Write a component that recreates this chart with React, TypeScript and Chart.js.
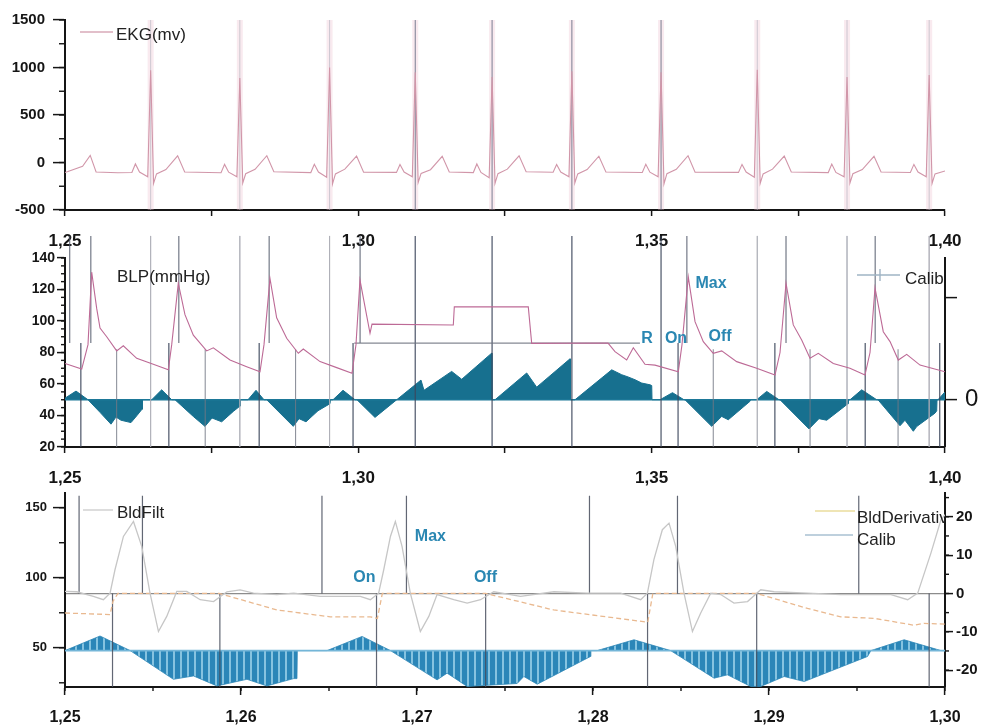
import React, { useEffect, useRef } from "react";
import { Chart, registerables } from "chart.js";

Chart.register(...registerables);
Chart.defaults.font.family = '"Liberation Sans", Arial, sans-serif';

// ---- time axes (minutes) ----
const wideRange = [1.25, 1.4];
const narrowRange = [1.25, 1.3];
const wideTicks = [1.25, 1.275, 1.3, 1.325, 1.35, 1.375, 1.4];
const narrowTicks = [1.25, 1.26, 1.27, 1.28, 1.29, 1.3];
const ekgTicks = [-500, 0, 500, 1000, 1500];
const blpTicks = [20, 40, 60, 80, 100, 120, 140];
const blpRightTicks = [0, 65];
const filtTicks = [50, 100, 150];
const derivTicks = [-20, -10, 0, 10, 20];

// ---- detected events ----
const rTimes = [1.2646, 1.2798, 1.2951, 1.3097, 1.3228, 1.3364, 1.3516, 1.368, 1.3833, 1.3973];
const onTimes = [1.2527, 1.2677, 1.2831, 1.2991, 1.3545, 1.371, 1.3864, 1.3991];
const maxTimes = [1.2508, 1.2544, 1.2694, 1.2848, 1.3003, 1.356, 1.3729, 1.3881];
const offTimes = [1.2588, 1.2739, 1.2893, 1.3605, 1.377, 1.392];
const calibWindow = [1.305, 1.355];

// ---- EKG (mV) ----
const ekgTime = [
  1.25, 1.2505, 1.253, 1.2543, 1.2553, 1.259,
  1.2614, 1.262, 1.2627, 1.2641, 1.2646, 1.2651, 1.2656, 1.2672, 1.2692, 1.2704,
  1.2766, 1.2772, 1.2779, 1.2793, 1.2798, 1.2803, 1.2808, 1.2824, 1.2844, 1.2856,
  1.2919, 1.2925, 1.2932, 1.2946, 1.2951, 1.2956, 1.2961, 1.2977, 1.2997, 1.3009,
  1.3065, 1.3071, 1.3078, 1.3092, 1.3097, 1.3102, 1.3107, 1.3123, 1.3143, 1.3155,
  1.3196, 1.3202, 1.3209, 1.3223, 1.3228, 1.3233, 1.3238, 1.3254, 1.3274, 1.3286,
  1.3332, 1.3338, 1.3345, 1.3359, 1.3364, 1.3369, 1.3374, 1.339, 1.341, 1.3422,
  1.3484, 1.349, 1.3497, 1.3511, 1.3516, 1.3521, 1.3526, 1.3542, 1.3562, 1.3574,
  1.3648, 1.3654, 1.3661, 1.3675, 1.368, 1.3685, 1.369, 1.3706, 1.3726, 1.3738,
  1.3801, 1.3807, 1.3814, 1.3828, 1.3833, 1.3838, 1.3843, 1.3859, 1.3879, 1.3891,
  1.3941, 1.3947, 1.3954, 1.3968, 1.3973, 1.3978, 1.3983, 1.4,
];
const ekgMv = [
  -105, -95, -40, 75, -100, -108,
  -105, -15, -100, -150, 970, -220, -120, -75, 70, -100,
  -108, -20, -102, -150, 890, -215, -118, -72, 72, -98,
  -106, -18, -100, -155, 1000, -225, -120, -70, 68, -102,
  -104, -22, -100, -150, 950, -210, -115, -76, 65, -100,
  -106, -15, -104, -160, 900, -220, -118, -70, 70, -98,
  -102, -20, -100, -150, 960, -215, -120, -74, 66, -100,
  -105, -18, -102, -150, 950, -225, -118, -72, 72, -102,
  -104, -20, -100, -155, 975, -220, -120, -70, 68, -100,
  -106, -16, -104, -150, 900, -215, -118, -75, 65, -100,
  -105, -20, -100, -150, 920, -220, -120, -90,
];

// ---- blood pressure (mmHg) ----
const blpTime = [
  1.25, 1.25285, 1.25392, 1.25455, 1.2554, 1.25597, 1.25711, 1.25881, 1.25994, 1.26222,
  1.26505, 1.26761, 1.26819, 1.26931, 1.27045, 1.27187, 1.27415, 1.27528, 1.27813, 1.28097,
  1.28324, 1.28392, 1.28494, 1.28608, 1.28779, 1.28977, 1.29062, 1.29347, 1.29631, 1.29892,
  1.2996, 1.30028, 1.30199, 1.30233, 1.31619, 1.31636, 1.32897, 1.32955, 1.34256, 1.34375,
  1.34574, 1.34687, 1.34886, 1.35057, 1.35454, 1.35517, 1.35624, 1.35739, 1.3588, 1.3605,
  1.36194, 1.36449, 1.3679, 1.37102, 1.37188, 1.3729, 1.37414, 1.37557, 1.37699, 1.3784,
  1.38096, 1.3838, 1.38636, 1.38722, 1.38807, 1.38948, 1.39063, 1.39204, 1.39347, 1.39574,
  1.4,
];
const blpMmHg = [
  73, 69.5, 85, 131, 108, 95.5, 90, 81, 84.3, 76.3,
  72.5, 69, 85, 124, 104, 91, 81, 83, 75.2, 71,
  67.8, 85, 127, 102, 89, 79.5, 82.2, 74.2, 70.4, 66.8,
  85, 126, 92.2, 98, 97.5, 109, 109, 85.8, 86, 80.5,
  75.2, 83, 72.5, 72, 67.8, 85, 128, 99.6, 86.9, 79.5,
  81, 74.2, 70, 65.7, 80, 124, 97.5, 88, 76.3, 79.5,
  73, 70, 65.7, 80, 121, 93.2, 86.9, 75.2, 78.8, 72,
  67.8,
];
const calibLevelTime = [1.2993, 1.348];
const calibLevelMmHg = [86, 86];

// ---- pressure derivative / calibration ramps (right axis) ----
const derivTime = [
  1.25, 1.25188, 1.25392, 1.25597, 1.25784, 1.25869, 1.25955, 1.26125, 1.26227, 1.26313, 1.26321,
  1.26478, 1.26648, 1.26819,
  1.26875, 1.27187, 1.27386, 1.27506, 1.27671, 1.27869, 1.27983, 1.27991,
  1.28119, 1.28256, 1.28392,
  1.28438, 1.28891, 1.28989, 1.29108, 1.29312, 1.29517, 1.29526,
  1.29568, 1.29739, 1.29943,
  1.29977, 1.30284, 1.30654,
  1.31068, 1.31119, 1.31591, 1.31762, 1.32273, 1.32278,
  1.3233, 1.3287, 1.3304, 1.33608, 1.33617,
  1.33693, 1.34319, 1.34489, 1.34597, 1.34716, 1.3483, 1.34972, 1.35001, 1.35006,
  1.35142, 1.35355, 1.35551,
  1.35568, 1.36023, 1.36194, 1.36306, 1.36676, 1.36685,
  1.3679, 1.36961, 1.37171,
  1.37188, 1.37682, 1.37852, 1.37984, 1.38347, 1.38355,
  1.38381, 1.3858, 1.38836,
  1.38858, 1.39233, 1.39318, 1.3946, 1.39518, 1.3983, 1.39859, 1.39864,
  1.39881, 1.4,
];
const derivValue = [
  1, 5.5, 0, -8, -15.5, -11, -13, -14.5, -10, -6, 0,
  0, 6.3, 0,
  0, -10.6, -16.9, -11.6, -14, -7.4, -4, 0,
  0, 6, 0,
  0, -16.9, -12, -14, -7, -2.5, 0,
  0, 6, 0,
  0, -11.2, 0,
  12.5, 6, 18, 13, 29.6, 0,
  0, 17, 8, 26, 0,
  0, 19, 15.9, 14.5, 12.7, 10.6, 9.5, 9, 0,
  0, 4.5, 0,
  0, -16.9, -10.6, -12.7, -1, 0,
  0, 5.3, 0,
  0, -18.5, -12, -13, -2.5, 0,
  0, 6.3, 0,
  0, -16.5, -13, -20, -17, -8.5, -7, 0,
  0, 5,
];

// ---- detail window 1,25 – 1,30 ----
const filtTime = [
  1.25, 1.25067, 1.25161, 1.25218, 1.25256, 1.25284, 1.25332, 1.25389, 1.25436, 1.25483,
  1.25531, 1.25578, 1.25635, 1.25692, 1.25768, 1.25844, 1.2592, 1.25995, 1.26071, 1.26204,
  1.26299, 1.2645, 1.26678, 1.26735, 1.26782, 1.26811, 1.26849, 1.26877, 1.26915, 1.26962,
  1.27019, 1.27067, 1.27114, 1.27209, 1.27285, 1.27361, 1.27436, 1.27588, 1.27778, 1.27967,
  1.28157, 1.28271, 1.28309, 1.28346, 1.28394, 1.28432, 1.2847, 1.28517, 1.28565, 1.28612,
  1.28669, 1.28726, 1.28801, 1.28878, 1.28953, 1.29029, 1.29219, 1.29408, 1.29693, 1.29788,
  1.29845, 1.2992, 1.29977, 1.3,
];
const filtValue = [
  90.2, 90, 86.7, 84.3, 89, 105.7, 129.5, 140.2, 122.4, 89,
  61.6, 72.4, 90.2, 90.2, 84.3, 83, 90, 91.4, 89, 87.9,
  89, 86.7, 86.7, 84.3, 89, 105.7, 129.5, 140.2, 122.4, 89,
  61.6, 72.4, 88, 84.3, 81.9, 84.3, 90, 86.7, 90, 89,
  89, 84.3, 89, 112.9, 134.3, 139, 122.4, 89, 61.6, 74.8,
  89, 88, 81.9, 83, 91.4, 90, 89, 88, 88, 84.3,
  89, 117.6, 141.4, 145,
];
const bdTime = [
  1.25, 1.25256, 1.25273, 1.25301, 1.25876, 1.26204, 1.26507, 1.26735, 1.26775, 1.26803,
  1.27389, 1.27776, 1.28311, 1.2834, 1.2893, 1.29219, 1.29408, 1.29598, 1.29825, 1.2988, 1.3,
];
const bdValue = [
  -5.1, -5.5, -2, 0, 0, -4.3, -6.1, -6.1, -6.5, 0,
  0, -4.3, -7.5, 0, 0, -3.9, -6.1, -6.5, -8.3, -7.8, -8,
];
const calibBase = 48;
const calibTime = [
  1.25, 1.25199, 1.2537, 1.25616, 1.2573, 1.25863, 1.26034, 1.26147, 1.26299, 1.26318,
  1.2632, 1.26489, 1.26688, 1.26849, 1.27114, 1.27171, 1.27285, 1.27569, 1.27607, 1.27683,
  1.27986, 1.27988, 1.28024, 1.28233, 1.28441, 1.28688, 1.28764, 1.28896, 1.28953, 1.29086,
  1.292, 1.2956, 1.29579, 1.29768, 1.29977, 1.3,
];
const calibValue = [
  48, 58.4, 48, 27.5, 29.9, 22.8, 27.5, 22.8, 28, 28,
  48, 48, 58.1, 48, 27.1, 31.9, 22.4, 24.5, 29.5, 24,
  43.8, 48, 48, 55.7, 48, 28.3, 30.7, 22.4, 22.4, 29.5,
  25.9, 43.8, 48, 55.7, 48, 48,
];

// event captions
const blpMarkText = ["R", "On", "Max", "Off"];
const blpMarkTime = [1.3492, 1.35415, 1.36011, 1.36165];
const blpMarkLevel = [88.6, 88.6, 123.5, 89.8];
const filtMarkText = ["On", "Max", "Off"];
const filtMarkTime = [1.26701, 1.27076, 1.27389];
const filtMarkLevel = [100, 129.3, 100];

// ---- helpers ----
const pts = (t: number[], v: number[]) => t.map((x, i) => ({ x, y: v[i] }));
const verticals = (times: number[], lo: number, hi: number) =>
  times.flatMap((t) => [{ x: t, y: lo }, { x: t, y: hi }, { x: t, y: null }]);
const fmt = (v: number) => v.toFixed(2).replace(".", ",");
const isMult = (v: number, s: number) => Math.abs(v / s - Math.round(v / s)) < 1e-6;
const inCalib = (t: number) => t >= calibWindow[0] && t <= calibWindow[1];
const inNarrow = (t: number) => t >= narrowRange[0] && t <= narrowRange[1];
const INK = "#151515";

function axis(a: any) {
  const horizontal = a.pos === "bottom";
  return {
    type: "linear",
    position: a.pos,
    min: a.min,
    max: a.max,
    afterBuildTicks: (s: any) => {
      s.ticks = a.majors.map((value: number) => ({ value }));
    },
    afterFit: (s: any) => {
      if (horizontal) s.height = a.thickness;
      else s.width = a.thickness;
    },
    ticks: {
      autoSkip: false,
      maxRotation: 0,
      minRotation: 0,
      padding: a.pad,
      color: INK,
      font: { size: a.size, weight: a.bold === false ? "normal" : "bold" },
      callback: (v: number) => a.label(v),
    },
    grid: {
      drawOnChartArea: !!a.zeroGrid,
      drawTicks: true,
      tickLength: a.tickLen,
      tickColor: INK,
      tickWidth: 1.5,
      lineWidth: 1.2,
      color: (c: any) => (a.zeroGrid && c.tick && c.tick.value === 0 ? a.zeroGrid : "rgba(0,0,0,0)"),
    },
    border: { display: true, color: INK, width: 2 },
  };
}

const line = (data: any[], color: any, width: number, extra: any = {}) => ({
  type: "line",
  data,
  borderColor: color,
  borderWidth: width,
  pointRadius: 0,
  fill: false,
  tension: 0,
  ...extra,
});

// short unlabeled ticks between the labeled ones
const minorTicks = {
  id: "minorTicks",
  afterDraw(chart: any, _a: any, o: any) {
    const ctx = chart.ctx;
    ctx.save();
    ctx.strokeStyle = INK;
    ctx.lineWidth = 1.4;
    for (const m of o.list || []) {
      const s = chart.scales[m.id];
      const n = Math.round((m.to - m.from) / m.step);
      for (let i = 0; i <= n; i++) {
        const p = s.getPixelForValue(m.from + i * m.step);
        ctx.beginPath();
        if (m.side === "left") {
          ctx.moveTo(s.right - m.len, p);
          ctx.lineTo(s.right, p);
        } else if (m.side === "right") {
          ctx.moveTo(s.left, p);
          ctx.lineTo(s.left + m.len, p);
        } else {
          ctx.moveTo(p, s.top);
          ctx.lineTo(p, s.top + m.len);
        }
        ctx.stroke();
      }
    }
    ctx.restore();
  },
};

// in-plot legends and event captions
const notes = {
  id: "notes",
  afterDraw(chart: any, _a: any, o: any) {
    const { ctx, chartArea: a } = chart;
    ctx.save();
    ctx.beginPath();
    ctx.rect(a.left, 0, a.right - a.left, chart.height);
    ctx.clip();
    for (const it of o.legend || []) {
      const bx = it.from === "right" ? a.right : a.left;
      if (it.line) {
        ctx.strokeStyle = it.lineColor;
        ctx.lineWidth = 1.4;
        ctx.beginPath();
        ctx.moveTo(bx + it.line[0], a.top + it.line[2]);
        ctx.lineTo(bx + it.line[1], a.top + it.line[2]);
        ctx.stroke();
        if (it.tick != null) {
          ctx.beginPath();
          ctx.moveTo(bx + it.tick, a.top + it.line[2] - 6);
          ctx.lineTo(bx + it.tick, a.top + it.line[2] + 6);
          ctx.stroke();
        }
      }
      ctx.font = '17px "Liberation Sans", Arial, sans-serif';
      ctx.fillStyle = "#222";
      ctx.textAlign = "left";
      ctx.textBaseline = "middle";
      ctx.fillText(it.text, bx + it.tx, a.top + it.ty);
    }
    ctx.restore();
    if (o.marks) {
      ctx.save();
      const xs = chart.scales.x;
      const ys = chart.scales.y;
      ctx.font = 'bold 16px "Liberation Sans", Arial, sans-serif';
      ctx.fillStyle = "#2a87b2";
      ctx.textAlign = "center";
      ctx.textBaseline = "middle";
      o.marks.text.forEach((s: string, i: number) => {
        ctx.fillText(s, xs.getPixelForValue(o.marks.t[i]), ys.getPixelForValue(o.marks.v[i]));
      });
      ctx.restore();
    }
  },
};

const baseOptions = (padding: any, scales: any, plugins: any) => ({
  animation: false,
  responsive: false,
  events: [],
  layout: { padding },
  scales,
  plugins: { legend: { display: false }, tooltip: { enabled: false }, ...plugins },
});

function ekgConfig() {
  const calibR = rTimes.filter(inCalib);
  const plainR = rTimes.filter((t) => !inCalib(t));
  return {
    type: "line",
    data: {
      datasets: [
        line(pts(ekgTime, ekgMv), "#d196a9", 1.1),
        line(verticals(calibR, -500, 1500), "rgba(80,90,115,0.75)", 1),
        line(verticals(plainR, -500, 1500), "rgba(175,175,188,0.6)", 1),
        line(verticals(rTimes, -500, 1500), "rgba(236,186,202,0.3)", 6),
      ],
    },
    options: baseOptions(
      { left: 8, top: 20, right: 43, bottom: 478 },
      {
        x: axis({ pos: "bottom", min: wideRange[0], max: wideRange[1], majors: wideTicks, label: (v: number) => (isMult(v, 0.05) ? fmt(v) : ""), size: 17, tickLen: 6, pad: 15, thickness: 40 }),
        y: axis({ pos: "left", min: -500, max: 1500, majors: ekgTicks, label: (v: number) => String(v), size: 15, tickLen: 12, pad: 8, thickness: 57 }),
      },
      {
        minorTicks: { list: [{ id: "y", from: -500, to: 1500, step: 250, len: 6, side: "left" }] },
        notes: { legend: [{ from: "left", line: [15, 48, 12], lineColor: "#d9aab9", text: "EKG(mv)", tx: 51, ty: 15 }] },
      }
    ),
    plugins: [minorTicks, notes],
  };
}

function blpConfig() {
  const calibR = rTimes.filter(inCalib);
  const plainR = rTimes.filter((t) => !inCalib(t));
  const noClip = { clip: false };
  return {
    type: "line",
    data: {
      datasets: [
        line(pts(blpTime, blpMmHg), "#bd6a96", 1.1),
        line(pts(calibLevelTime, calibLevelMmHg), "rgba(110,115,128,0.85)", 1.2),
        line(verticals(onTimes, 86, 20), "rgba(60,70,92,0.85)", 1.3, noClip),
        line(verticals(maxTimes, 154, 86), "rgba(80,88,105,0.8)", 1.2, noClip),
        line(verticals(offTimes, 82, 20), "rgba(115,120,132,0.8)", 1.1, noClip),
        line(verticals(calibR, 154, 20), "rgba(60,70,92,0.85)", 1.3, noClip),
        line(verticals(plainR, 154, 20), "rgba(170,172,182,0.65)", 1, noClip),
        line(pts(wideRange, [0, 0]), "#1d7898", 1.6, { yAxisID: "y2" }),
        line(pts(derivTime, derivValue), "#17708f", 1, { yAxisID: "y2", fill: "origin", backgroundColor: "#17708f" }),
      ],
    },
    options: baseOptions(
      { left: 8, top: 258, right: 0, bottom: 241 },
      {
        x: axis({ pos: "bottom", min: wideRange[0], max: wideRange[1], majors: wideTicks, label: (v: number) => (isMult(v, 0.05) ? fmt(v) : ""), size: 17, tickLen: 6, pad: 15, thickness: 40 }),
        y: axis({ pos: "left", min: 20, max: 140, majors: blpTicks, label: (v: number) => String(v), size: 14, tickLen: 8, pad: 2, thickness: 57 }),
        y2: axis({ pos: "right", min: -30, max: 90, majors: blpRightTicks, label: (v: number) => (v === 0 ? "0" : ""), size: 24, bold: false, tickLen: 12, pad: 8, thickness: 43 }),
      },
      {
        minorTicks: { list: [{ id: "y", from: 20, to: 140, step: 5, len: 4, side: "left" }] },
        notes: {
          legend: [
            { from: "left", text: "BLP(mmHg)", tx: 52, ty: 19 },
            { from: "right", line: [-88, -45, 17], tick: -65, lineColor: "#9fb4c4", text: "Calib", tx: -40, ty: 21 },
          ],
          marks: { text: blpMarkText, t: blpMarkTime, v: blpMarkLevel },
        },
      }
    ),
    plugins: [minorTicks, notes],
  };
}

function filtConfig(ctx: CanvasRenderingContext2D) {
  const tile = document.createElement("canvas");
  tile.width = 7;
  tile.height = 8;
  const g = tile.getContext("2d")!;
  g.fillStyle = "#2b86b8";
  g.fillRect(0, 0, 7, 8);
  g.fillStyle = "#86c3e0";
  g.fillRect(5, 0, 2, 8);
  const stripes = ctx.createPattern(tile, "repeat");

  const upper = [...rTimes, ...maxTimes].filter(inNarrow);
  const lower = [...onTimes, ...offTimes].filter(inNarrow);
  return {
    type: "line",
    data: {
      datasets: [
        line(pts(filtTime, filtValue), "#c6c6c6", 1.3),
        line(pts(bdTime, bdValue), "#e9b990", 1.3, { yAxisID: "y2", borderDash: [5, 3] }),
        line(verticals(upper, 25.5, 0), "rgba(70,76,92,0.85)", 1.2, { yAxisID: "y2", clip: false }),
        line(verticals(lower, 0, -24.4), "rgba(70,76,92,0.85)", 1.2, { yAxisID: "y2", clip: false }),
        line(pts(narrowRange, [calibBase, calibBase]), "#74b6d8", 1.6),
        line(pts(calibTime, calibValue), "#2d86b6", 0.8, { fill: { value: calibBase }, backgroundColor: stripes }),
      ],
    },
    options: baseOptions(
      { left: 8, top: 493, right: 0, bottom: 1 },
      {
        x: axis({ pos: "bottom", min: narrowRange[0], max: narrowRange[1], majors: narrowTicks, label: (v: number) => fmt(v), size: 16, tickLen: 8, pad: 13, thickness: 40 }),
        y: axis({ pos: "left", min: 22, max: 160.5, majors: filtTicks, label: (v: number) => String(v), size: 13, tickLen: 12, pad: 6, thickness: 57 }),
        y2: axis({ pos: "right", min: -24.4, max: 26.2, majors: derivTicks, label: (v: number) => String(v), size: 15, tickLen: 8, pad: 3, thickness: 43, zeroGrid: "#8c8c8c" }),
      },
      {
        minorTicks: {
          list: [
            { id: "y", from: 25, to: 150, step: 25, len: 6, side: "left" },
            { id: "y2", from: -20, to: 25, step: 5, len: 4, side: "right" },
            { id: "x", from: 1.25, to: 1.3, step: 0.005, len: 4, side: "bottom" },
          ],
        },
        notes: {
          legend: [
            { from: "left", line: [18, 48, 17], lineColor: "#cfcfcf", text: "BldFilt", tx: 52, ty: 20 },
            { from: "right", line: [-130, -90, 18], lineColor: "#eadc9c", text: "BldDerivative", tx: -88, ty: 25 },
            { from: "right", line: [-140, -92, 42], lineColor: "#a9c1d2", text: "Calib", tx: -88, ty: 47 },
          ],
          marks: { text: filtMarkText, t: filtMarkTime, v: filtMarkLevel },
        },
      }
    ),
    plugins: [minorTicks, notes],
  };
}

function Panel({ build }: { build: (ctx: CanvasRenderingContext2D) => any }) {
  const ref = useRef<HTMLCanvasElement>(null);
  useEffect(() => {
    const canvas = ref.current!;
    const chart = new Chart(canvas, build(canvas.getContext("2d")!));
    return () => chart.destroy();
  }, [build]);
  return (
    <canvas
      ref={ref}
      width={988}
      height={728}
      style={{ position: "absolute", left: 0, top: 0, width: 988, height: 728 }}
    />
  );
}

export default function App() {
  useEffect(() => {
    document.body.style.margin = "0";
  }, []);
  return (
    <div style={{ position: "relative", width: 988, height: 728, background: "#fff", overflow: "hidden" }}>
      <Panel build={ekgConfig} />
      <Panel build={blpConfig} />
      <Panel build={filtConfig} />
    </div>
  );
}
